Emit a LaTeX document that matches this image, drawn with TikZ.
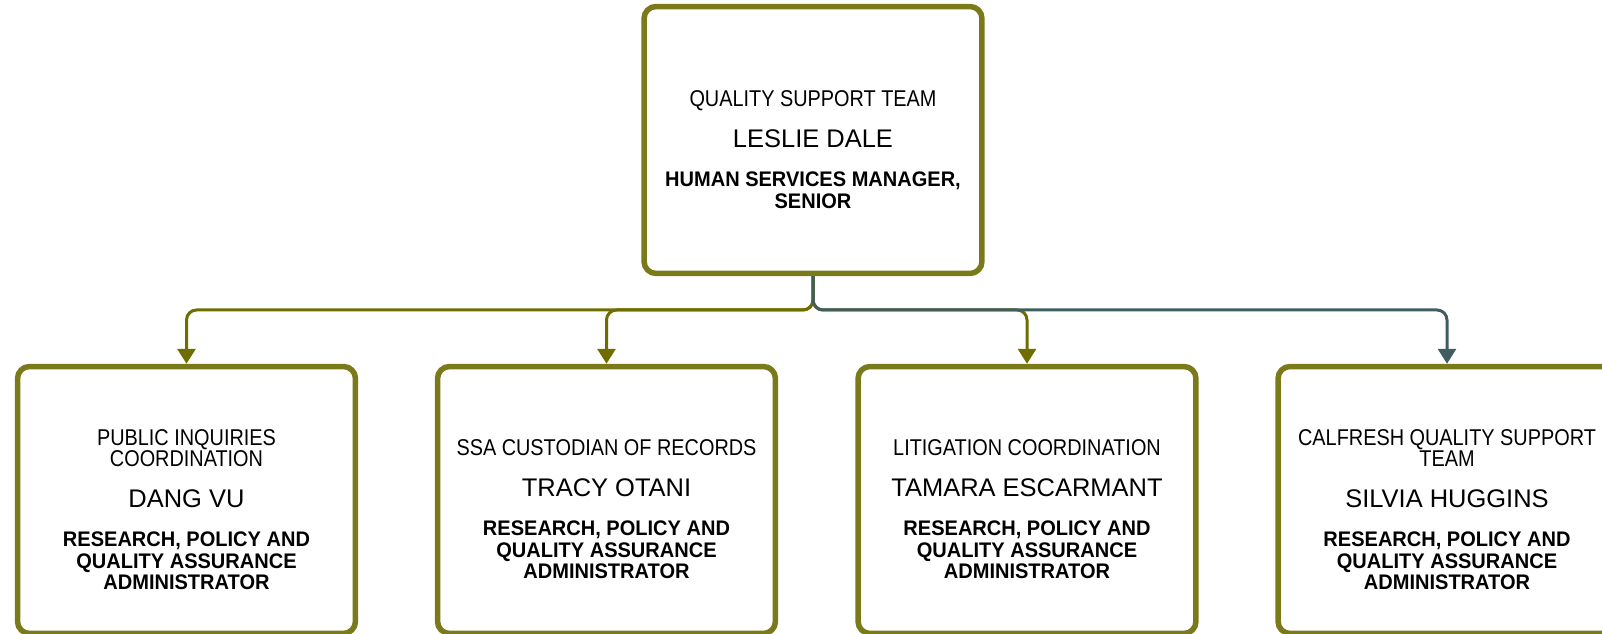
\documentclass[tikz,border=0pt]{standalone}
\usepackage{fontspec}
\setmainfont{Liberation Sans}
\newfontfamily\rolefont{Liberation Sans}[FakeStretch=0.87]
\newfontfamily\postfont{Liberation Sans}[FakeStretch=0.95]
\usetikzlibrary{arrows.meta,positioning}
\definecolor{olivebox}{RGB}{122,122,26}
\definecolor{oliveline}{RGB}{110,110,0}
\definecolor{slateline}{RGB}{64,94,96}
\newcommand{\cardtext}[3]{\parbox{6.6cm}{\centering\vspace*{0.38cm}
  {\rolefont\fontsize{13pt}{12.3pt}\selectfont #1\par}\vspace{8.3pt}
  {\fontsize{14.5pt}{15pt}\selectfont #2\par}\vspace{10pt}
  {\postfont\bfseries\fontsize{12pt}{12.2pt}\selectfont #3\par}}}

\begin{document}
\begin{tikzpicture}[x=0.02cm,y=-0.02cm,
  card/.style={draw=olivebox,line width=0.11cm,rounded corners=0.24cm,fill=white,
    minimum width=6.76cm,minimum height=5.34cm,inner sep=0pt},
  link/.style={line width=0.06cm,rounded corners=0.2cm,
    -{Triangle[width=0.36cm,length=0.3cm]}}]
\useasboundingbox (0,0) rectangle (1602,634);
\node[card] (lead) at (813,140) {\cardtext{QUALITY SUPPORT TEAM}{LESLIE DALE}{HUMAN SERVICES MANAGER,\\SENIOR}};
\node[card] (c1) at (186.5,500) {\cardtext{PUBLIC INQUIRIES\\COORDINATION}{DANG VU}{RESEARCH, POLICY AND\\QUALITY ASSURANCE\\ADMINISTRATOR}};
\node[card] (c2) at (606.5,500) {\cardtext{SSA CUSTODIAN OF RECORDS}{TRACY OTANI}{RESEARCH, POLICY AND\\QUALITY ASSURANCE\\ADMINISTRATOR}};
\node[card] (c3) at (1027,500) {\cardtext{LITIGATION COORDINATION}{TAMARA ESCARMANT}{RESEARCH, POLICY AND\\QUALITY ASSURANCE\\ADMINISTRATOR}};
\node[card] (c4) at (1447,500) {\cardtext{CALFRESH QUALITY SUPPORT\\TEAM}{SILVIA HUGGINS}{RESEARCH, POLICY AND\\QUALITY ASSURANCE\\ADMINISTRATOR}};
\coordinate (bus) at (813,310);
\foreach \c in {c1,c2,c3}
  \draw[link,oliveline] (lead.south) -- (bus) -| (\c.north);
\draw[link,slateline] (lead.south) -- (bus) -| (c4.north);
\end{tikzpicture}
\end{document}
